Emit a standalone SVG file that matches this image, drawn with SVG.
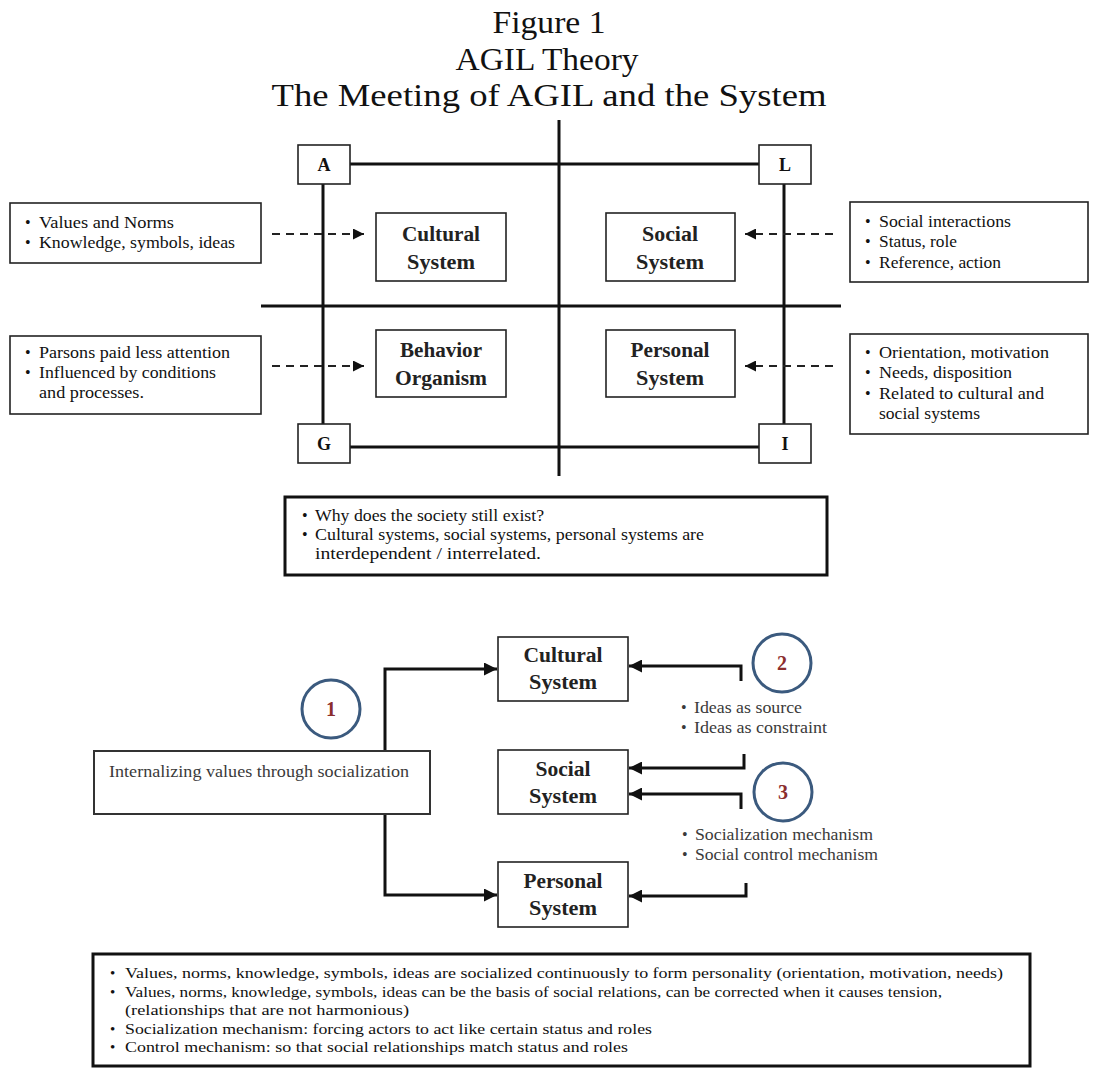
<svg xmlns="http://www.w3.org/2000/svg" width="1094" height="1070" viewBox="0 0 1094 1070">
<style>
.title{font-family:"Liberation Serif",serif;font-size:31px;fill:#111;text-anchor:middle}
.box{fill:#fff;stroke:#222;stroke-width:1.6}
.tbox{fill:#fff;stroke:#111;stroke-width:3}
.lbl{font-family:"Liberation Serif",serif;font-weight:bold;font-size:20px;fill:#222;text-anchor:middle}
.ltr{font-family:"Liberation Serif",serif;font-weight:bold;font-size:18px;fill:#111;text-anchor:middle}
.txt{font-family:"Liberation Serif",serif;font-size:16px;fill:#111}
.sm{font-family:"Liberation Serif",serif;font-size:15px;fill:#111}
.gray{font-family:"Liberation Serif",serif;font-size:16px;fill:#3a3a3a}
.axis{stroke:#111;stroke-width:3;fill:none}
.dash{stroke:#222;stroke-width:2;stroke-dasharray:8 6;fill:none}
.conn{stroke:#111;stroke-width:3;fill:none}
.circ{fill:#fff;stroke:#3b5a7e;stroke-width:3}
.num{font-family:"Liberation Serif",serif;font-weight:bold;font-size:20px;fill:#8b2e2e;text-anchor:middle}
</style>
<defs>
<marker id="ah" viewBox="0 0 10 10" refX="10" refY="5" markerWidth="11" markerHeight="11" markerUnits="userSpaceOnUse" orient="auto"><path d="M0,0L10,5L0,10z" fill="#111"/></marker>
<marker id="ah2" viewBox="0 0 10 10" refX="10" refY="5" markerWidth="13" markerHeight="13" markerUnits="userSpaceOnUse" orient="auto"><path d="M0,0L10,5L0,10z" fill="#111"/></marker>
</defs>
<rect width="1094" height="1070" fill="#fff"/>

<g id="title">
<text class="title" x="549" y="33" textLength="113" lengthAdjust="spacingAndGlyphs">Figure 1</text>
<text class="title" x="547" y="70" textLength="183" lengthAdjust="spacingAndGlyphs">AGIL Theory</text>
<text class="title" x="549" y="106" textLength="555" lengthAdjust="spacingAndGlyphs">The Meeting of AGIL and the System</text>
</g>

<g id="connectors">
<line class="axis" x1="559" y1="120" x2="559" y2="476"/>
<line class="axis" x1="350" y1="164" x2="759" y2="164"/>
<line class="axis" x1="350" y1="447" x2="759" y2="447"/>
<line class="axis" x1="323" y1="184" x2="323" y2="424"/>
<line class="axis" x1="784" y1="184" x2="784" y2="424"/>
<line class="axis" x1="261" y1="306" x2="841" y2="306"/>
<line class="dash" x1="272" y1="234" x2="364" y2="234" marker-end="url(#ah)"/>
<line class="dash" x1="272" y1="366" x2="364" y2="366" marker-end="url(#ah)"/>
<line class="dash" x1="833" y1="234" x2="745" y2="234" marker-end="url(#ah)"/>
<line class="dash" x1="833" y1="366" x2="745" y2="366" marker-end="url(#ah)"/>
<path class="conn" d="M385,751V669H497" marker-end="url(#ah2)"/>
<path class="conn" d="M385,814V895H497" marker-end="url(#ah2)"/>
<path class="conn" d="M741,681V666H629" marker-end="url(#ah2)"/>
<path class="conn" d="M744,754V768H629" marker-end="url(#ah2)"/>
<path class="conn" d="M741,809V794H629" marker-end="url(#ah2)"/>
<path class="conn" d="M746,883V896H629" marker-end="url(#ah2)"/>
</g>

<g id="node-A"><rect class="box" x="298" y="145" width="52" height="39"/><text class="ltr" x="324" y="171">A</text></g>
<g id="node-L"><rect class="box" x="759" y="145" width="52" height="39"/><text class="ltr" x="785" y="171">L</text></g>
<g id="node-G"><rect class="box" x="298" y="424" width="52" height="39"/><text class="ltr" x="324" y="450">G</text></g>
<g id="node-I"><rect class="box" x="759" y="424" width="52" height="39"/><text class="ltr" x="785" y="450">I</text></g>

<g id="node-cultural-top"><rect class="box" x="376" y="213" width="130" height="68"/>
<text class="lbl" x="441" y="241" textLength="78" lengthAdjust="spacingAndGlyphs">Cultural</text>
<text class="lbl" x="441" y="269" textLength="68" lengthAdjust="spacingAndGlyphs">System</text></g>
<g id="node-social-top"><rect class="box" x="606" y="213" width="129" height="68"/>
<text class="lbl" x="670" y="241" textLength="56" lengthAdjust="spacingAndGlyphs">Social</text>
<text class="lbl" x="670" y="269" textLength="68" lengthAdjust="spacingAndGlyphs">System</text></g>
<g id="node-behavior"><rect class="box" x="376" y="330" width="130" height="67"/>
<text class="lbl" x="441" y="357" textLength="82" lengthAdjust="spacingAndGlyphs">Behavior</text>
<text class="lbl" x="441" y="385" textLength="92" lengthAdjust="spacingAndGlyphs">Organism</text></g>
<g id="node-personal-top"><rect class="box" x="606" y="330" width="129" height="67"/>
<text class="lbl" x="670" y="357" textLength="79" lengthAdjust="spacingAndGlyphs">Personal</text>
<text class="lbl" x="670" y="385" textLength="68" lengthAdjust="spacingAndGlyphs">System</text></g>

<g id="note-left-1"><rect class="box" x="10" y="203" width="251" height="60"/>
<text class="txt" x="25" y="228">•</text><text class="txt" x="39" y="228" textLength="135" lengthAdjust="spacingAndGlyphs">Values and Norms</text>
<text class="txt" x="25" y="248">•</text><text class="txt" x="39" y="248" textLength="196" lengthAdjust="spacingAndGlyphs">Knowledge, symbols, ideas</text></g>
<g id="note-left-2"><rect class="box" x="10" y="336" width="251" height="78"/>
<text class="txt" x="25" y="358">•</text><text class="txt" x="39" y="358" textLength="191" lengthAdjust="spacingAndGlyphs">Parsons paid less attention</text>
<text class="txt" x="25" y="378">•</text><text class="txt" x="39" y="378" textLength="177" lengthAdjust="spacingAndGlyphs">Influenced by conditions</text>
<text class="txt" x="39" y="398" textLength="105" lengthAdjust="spacingAndGlyphs">and processes.</text></g>
<g id="note-right-1"><rect class="box" x="850" y="202" width="238" height="80"/>
<text class="txt" x="865" y="227">•</text><text class="txt" x="879" y="227" textLength="132" lengthAdjust="spacingAndGlyphs">Social interactions</text>
<text class="txt" x="865" y="247">•</text><text class="txt" x="879" y="247" textLength="78" lengthAdjust="spacingAndGlyphs">Status, role</text>
<text class="txt" x="865" y="268">•</text><text class="txt" x="879" y="268" textLength="122" lengthAdjust="spacingAndGlyphs">Reference, action</text></g>
<g id="note-right-2"><rect class="box" x="850" y="334" width="238" height="100"/>
<text class="txt" x="865" y="358">•</text><text class="txt" x="879" y="358" textLength="170" lengthAdjust="spacingAndGlyphs">Orientation, motivation</text>
<text class="txt" x="865" y="378">•</text><text class="txt" x="879" y="378" textLength="133" lengthAdjust="spacingAndGlyphs">Needs, disposition</text>
<text class="txt" x="865" y="399">•</text><text class="txt" x="879" y="399" textLength="165" lengthAdjust="spacingAndGlyphs">Related to cultural and</text>
<text class="txt" x="879" y="419" textLength="101" lengthAdjust="spacingAndGlyphs">social systems</text></g>

<g id="note-middle"><rect class="tbox" x="285" y="497" width="542" height="78"/>
<text class="txt" x="302" y="521">•</text><text class="txt" x="315" y="521" textLength="229" lengthAdjust="spacingAndGlyphs">Why does the society still exist?</text>
<text class="txt" x="302" y="540">•</text><text class="txt" x="315" y="540" textLength="389" lengthAdjust="spacingAndGlyphs">Cultural systems, social systems, personal systems are</text>
<text class="txt" x="315" y="559" textLength="226" lengthAdjust="spacingAndGlyphs">interdependent / interrelated.</text></g>

<g id="node-internalizing"><rect class="box" x="94" y="751" width="336" height="63" style="stroke:#333;stroke-width:2"/>
<text class="gray" x="109" y="777" textLength="300" lengthAdjust="spacingAndGlyphs">Internalizing values through socialization</text></g>

<g id="node-cultural-bottom"><rect class="box" x="498" y="637" width="130" height="64"/>
<text class="lbl" x="563" y="662" textLength="79" lengthAdjust="spacingAndGlyphs">Cultural</text>
<text class="lbl" x="563" y="689" textLength="68" lengthAdjust="spacingAndGlyphs">System</text></g>
<g id="node-social-bottom"><rect class="box" x="498" y="750" width="130" height="64"/>
<text class="lbl" x="563" y="776" textLength="55" lengthAdjust="spacingAndGlyphs">Social</text>
<text class="lbl" x="563" y="803" textLength="68" lengthAdjust="spacingAndGlyphs">System</text></g>
<g id="node-personal-bottom"><rect class="box" x="498" y="862" width="130" height="65"/>
<text class="lbl" x="563" y="888" textLength="79" lengthAdjust="spacingAndGlyphs">Personal</text>
<text class="lbl" x="563" y="915" textLength="68" lengthAdjust="spacingAndGlyphs">System</text></g>

<g id="badge-1"><circle class="circ" cx="331" cy="709" r="29"/><text class="num" x="331" y="716">1</text></g>
<g id="badge-2"><circle class="circ" cx="782" cy="663" r="29"/><text class="num" x="782" y="670">2</text></g>
<g id="badge-3"><circle class="circ" cx="783" cy="792" r="29"/><text class="num" x="783" y="799">3</text></g>

<g id="label-2">
<text class="gray" x="681" y="713">•</text><text class="gray" x="694" y="713" textLength="108" lengthAdjust="spacingAndGlyphs">Ideas as source</text>
<text class="gray" x="681" y="733">•</text><text class="gray" x="694" y="733" textLength="133" lengthAdjust="spacingAndGlyphs">Ideas as constraint</text></g>
<g id="label-3">
<text class="gray" x="682" y="840">•</text><text class="gray" x="695" y="840" textLength="178" lengthAdjust="spacingAndGlyphs">Socialization mechanism</text>
<text class="gray" x="682" y="860">•</text><text class="gray" x="695" y="860" textLength="183" lengthAdjust="spacingAndGlyphs">Social control mechanism</text></g>

<g id="note-bottom"><rect class="tbox" x="93" y="954" width="937" height="112"/>
<text class="sm" x="110" y="978">•</text><text class="sm" x="125" y="978" textLength="878" lengthAdjust="spacingAndGlyphs">Values, norms, knowledge, symbols, ideas are socialized continuously to form personality (orientation, motivation, needs)</text>
<text class="sm" x="110" y="997">•</text><text class="sm" x="125" y="997" textLength="817" lengthAdjust="spacingAndGlyphs">Values, norms, knowledge, symbols, ideas can be the basis of social relations, can be corrected when it causes tension,</text>
<text class="sm" x="125" y="1015" textLength="284" lengthAdjust="spacingAndGlyphs">(relationships that are not harmonious)</text>
<text class="sm" x="110" y="1034">•</text><text class="sm" x="125" y="1034" textLength="527" lengthAdjust="spacingAndGlyphs">Socialization mechanism: forcing actors to act like certain status and roles</text>
<text class="sm" x="110" y="1052">•</text><text class="sm" x="125" y="1052" textLength="503" lengthAdjust="spacingAndGlyphs">Control mechanism: so that social relationships match status and roles</text></g>
</svg>
